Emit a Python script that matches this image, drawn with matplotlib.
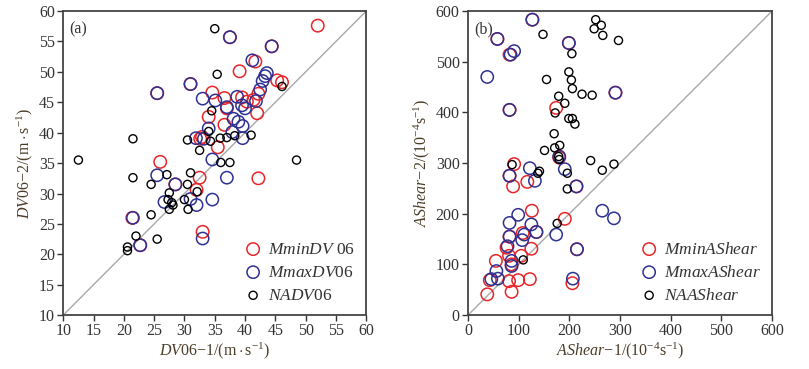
import matplotlib
matplotlib.use('Agg')
import matplotlib.pyplot as plt
import numpy as np

plt.rcParams['font.family'] = 'Liberation Serif'
plt.rcParams['mathtext.fontset'] = 'custom'
plt.rcParams['mathtext.rm'] = 'Liberation Serif'
plt.rcParams['mathtext.it'] = 'Liberation Serif:italic'

# panel (a): DV06
a_min_x = [52.0, 37.5, 44.4, 41.7, 39.1, 45.3, 46.1, 31.0, 25.5, 34.6, 36.6, 39.5, 40.3, 41.4,
           42.2, 42.0, 34.0, 36.6, 35.5, 32.6, 26.0, 32.5, 32.0, 28.5, 42.2, 21.4, 22.7, 33.0,
           37.0, 32.9]
a_min_y = [57.6, 55.7, 54.2, 51.7, 50.1, 48.6, 48.3, 48.0, 46.5, 46.6, 45.7, 45.8, 45.1, 45.4,
           46.4, 43.2, 42.6, 41.3, 37.6, 39.0, 35.2, 32.6, 30.6, 31.5, 32.5, 26.0, 21.5, 23.7,
           44.0, 39.3]
a_max_x = [37.5, 44.4, 41.2, 31.0, 25.5, 43.6, 43.3, 42.9, 42.5, 33.0, 35.1, 37.0, 38.7, 39.5,
           40.0, 41.8, 38.1, 38.9, 39.6, 37.9, 39.6, 34.0, 31.9, 33.2, 34.6, 25.5, 37.0, 28.5,
           26.7, 31.0, 32.0, 34.6, 33.0, 21.5, 22.7]
a_max_y = [55.7, 54.2, 51.9, 48.0, 46.5, 49.8, 49.3, 48.5, 47.1, 45.6, 45.3, 44.2, 45.9, 44.5,
           44.0, 45.2, 42.3, 41.8, 41.1, 40.1, 39.1, 40.7, 39.1, 39.0, 35.6, 33.0, 32.6, 31.5,
           28.6, 29.1, 28.1, 29.0, 22.6, 26.0, 21.5]
a_na_x = [35.0, 35.4, 46.1, 34.5, 34.0, 34.3, 30.5, 21.5, 35.9, 37.0, 38.3, 41.0, 32.5, 36.0,
          37.5, 12.5, 48.5, 21.5, 24.5, 27.1, 31.0, 30.5, 27.5, 32.1, 27.3, 27.9, 28.1, 27.5,
          30.0, 30.6, 24.5, 22.0, 25.5, 20.6, 20.6]
a_na_y = [57.1, 49.6, 47.6, 43.6, 40.2, 38.6, 38.8, 39.0, 39.1, 39.2, 39.5, 39.6, 37.1, 35.1,
          35.1, 35.5, 35.5, 32.6, 31.5, 33.1, 33.4, 31.5, 30.1, 30.3, 29.0, 28.5, 28.1, 27.4,
          29.0, 27.4, 26.5, 23.0, 22.5, 21.2, 20.6]

# panel (b): AShear
b_min_x = [127, 58, 82, 199, 82, 291, 174, 180, 91, 82, 89, 117, 214, 126, 191, 135, 108, 82,
           76, 125, 81, 105, 55, 86, 43, 81, 99, 122, 86, 38, 206, 215]
b_min_y = [583, 545, 514, 537, 405, 439, 409, 311, 298, 275, 254, 263, 254, 206, 190, 164, 162,
           155, 133, 131, 117, 117, 107, 100, 69, 67, 69, 71, 46, 41, 63, 130]
b_max_x = [127, 58, 84, 91, 38, 199, 82, 291, 180, 82, 132, 122, 191, 214, 99, 82, 265, 288,
           174, 125, 135, 111, 107, 82, 78, 86, 86, 56, 46, 59, 207, 215]
b_max_y = [583, 545, 514, 521, 470, 537, 405, 439, 313, 275, 265, 290, 288, 254, 198, 182, 206,
           191, 159, 179, 164, 159, 148, 155, 136, 107, 97, 87, 71, 72, 72, 130]
b_na_x = [252, 263, 249, 266, 297, 148, 205, 199, 155, 204, 206, 225, 245, 179, 191, 172, 199,
          206, 211, 170, 151, 171, 181, 180, 179, 196, 138, 141, 196, 242, 265, 288, 87, 176, 109]
b_na_y = [583, 572, 565, 552, 542, 554, 516, 480, 465, 464, 447, 436, 434, 432, 418, 399, 388,
          388, 377, 358, 325, 330, 335, 307, 313, 280, 280, 284, 249, 305, 286, 298, 297, 181, 109]

red = '#e8262a'
blue = '#2e3192'
label_color = '#4a3c28'

fig = plt.figure(figsize=(8.09, 3.69), dpi=100)
ax1 = fig.add_axes([0.0782, 0.146, 0.3745, 0.824])
ax2 = fig.add_axes([0.5785, 0.146, 0.3758, 0.824])


def draw_panel(ax, lim, step, mx, my, xx, xy, nx_, ny_, labels, xlab, ylab, tag):
    ax.plot([lim[0], lim[1]], [lim[0], lim[1]], color='#a8a8a8', lw=1.0, zorder=1)
    ax.scatter(mx, my, s=80, facecolors='none', edgecolors=red, linewidths=1.1, label=labels[0], zorder=2)
    ax.scatter(xx, xy, s=78, facecolors='none', edgecolors=blue, linewidths=1.1, label=labels[1], zorder=3)
    ax.scatter(nx_, ny_, s=34, facecolors='none', edgecolors='black', linewidths=1.0, label=labels[2], zorder=4)
    ax.set_xlim(lim)
    ax.set_ylim(lim)
    ticks = np.arange(lim[0], lim[1] + step / 2, step)
    ax.set_xticks(ticks)
    ax.set_yticks(ticks)
    ax.tick_params(direction='out', length=4, width=1, labelsize=11.5, colors='#333333', pad=2)
    for sp in ax.spines.values():
        sp.set_color('#444444')
        sp.set_linewidth(1.3)
    ax.set_xlabel(xlab, fontsize=11.5, color=label_color, labelpad=1)
    ax.set_ylabel(ylab, fontsize=11.5, color=label_color, labelpad=3)
    ax.text(0.02, 0.965, tag, transform=ax.transAxes, ha='left', va='top', fontsize=11.5, color='#333333')
    leg = ax.legend(loc='lower right', frameon=False, fontsize=12.5, handletextpad=0.1,
                    labelspacing=0.4, borderaxespad=0.25, handlelength=1.5)
    for t in leg.get_texts():
        t.set_color('#333333')


draw_panel(ax1, (10, 60), 5, a_min_x, a_min_y, a_max_x, a_max_y, a_na_x, a_na_y,
           [r'$\mathit{MminDV}$ 06', r'$\mathit{MmaxDV06}$', r'$\mathit{NADV}$06'],
           r'$\mathit{DV06}\mathrm{-1/(m\cdot s^{-1})}$',
           r'$\mathit{DV06}\mathrm{-2/(m\cdot s^{-1})}$', '(a)')
draw_panel(ax2, (0, 600), 100, b_min_x, b_min_y, b_max_x, b_max_y, b_na_x, b_na_y,
           [r'$\mathit{MminAShear}$', r'$\mathit{MmaxAShear}$', r'$\mathit{NAAShear}$'],
           r'$\mathit{AShear}\mathrm{-1/(10^{-4}s^{-1})}$',
           r'$\mathit{AShear}\mathrm{-2/(10^{-4}s^{-1})}$', '(b)')

fig.savefig('out.png', dpi=100)
